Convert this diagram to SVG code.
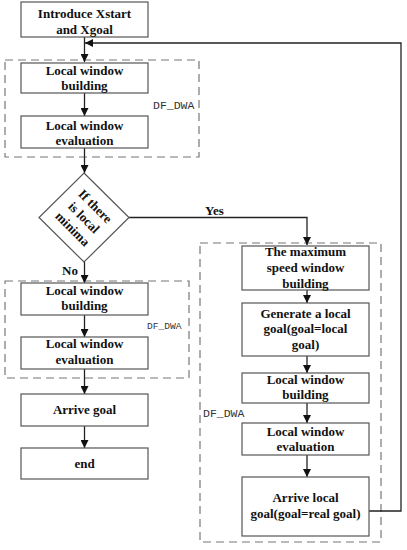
<svg xmlns="http://www.w3.org/2000/svg" width="407" height="550" viewBox="0 0 407 550">
<defs>
<style>
.box{fill:#fff;stroke:#555;stroke-width:1.2}
.dash{fill:none;stroke:#777;stroke-width:1.2;stroke-dasharray:8,5}
.t{font-family:"Liberation Serif","Times New Roman",serif;font-weight:bold;font-size:13px;fill:#111;text-anchor:middle}
.lbl{font-family:"Liberation Serif","Times New Roman",serif;font-weight:bold;font-size:13px;fill:#111}
.m{font-family:"Liberation Mono","Courier New",monospace;font-size:11.5px;fill:#333}
.c{fill:none;stroke:#222;stroke-width:1.3}
</style>
<marker id="ah" viewBox="0 0 10 10" refX="10" refY="5" markerWidth="8" markerHeight="8" markerUnits="userSpaceOnUse" orient="auto">
<path d="M0,0 L10,5 L0,10 z" fill="#111"/>
</marker>
</defs>
<rect width="407" height="550" fill="#fff"/>

<g id="groups">
<rect class="dash" x="5" y="60" width="194" height="97"/>
<rect class="dash" x="5" y="281" width="184" height="97"/>
<rect class="dash" x="200" y="243" width="181" height="299"/>
<text class="m" x="153" y="109">DF_DWA</text>
<text class="m" x="147" y="329" style="font-size:9.6px">DF_DWA</text>
<text class="m" x="203" y="417">DF_DWA</text>
</g>

<g id="connectors">
<line class="c" x1="84.5" y1="37" x2="84.5" y2="62" marker-end="url(#ah)"/>
<polyline class="c" points="369,511 401,511 401,43 85,43" marker-end="url(#ah)"/>
<line class="c" x1="84.5" y1="93" x2="84.5" y2="116" marker-end="url(#ah)"/>
<line class="c" x1="84.5" y1="148" x2="84.5" y2="173" marker-end="url(#ah)"/>
<line class="c" x1="84.5" y1="262" x2="84.5" y2="283" marker-end="url(#ah)"/>
<polyline class="c" points="129,217.5 307,217.5 307,245" marker-end="url(#ah)"/>
<line class="c" x1="84.5" y1="315" x2="84.5" y2="337" marker-end="url(#ah)"/>
<line class="c" x1="84.5" y1="369" x2="84.5" y2="394" marker-end="url(#ah)"/>
<line class="c" x1="84.5" y1="426" x2="84.5" y2="448" marker-end="url(#ah)"/>
<line class="c" x1="307" y1="290" x2="307" y2="303" marker-end="url(#ah)"/>
<line class="c" x1="307" y1="356" x2="307" y2="373" marker-end="url(#ah)"/>
<line class="c" x1="307" y1="403" x2="307" y2="423" marker-end="url(#ah)"/>
<line class="c" x1="307" y1="455" x2="307" y2="477" marker-end="url(#ah)"/>
<text class="lbl" x="205" y="215">Yes</text>
<text class="lbl" x="62" y="275">No</text>
</g>

<g id="start">
<rect class="box" x="21" y="2" width="127" height="35"/>
<text class="t" x="84.5" y="18">Introduce Xstart</text>
<text class="t" x="84.5" y="33.5">and Xgoal</text>
</g>

<g id="build1">
<rect class="box" x="21" y="63" width="127" height="30"/>
<text class="t" x="84.5" y="75">Local window</text>
<text class="t" x="84.5" y="90">building</text>
</g>

<g id="eval1">
<rect class="box" x="21" y="116" width="127" height="32"/>
<text class="t" x="84.5" y="129.5">Local window</text>
<text class="t" x="84.5" y="145">evaluation</text>
</g>

<g id="decision">
<polygon class="box" points="84,173 129,217.5 84,262 39,217.5"/>
<g transform="translate(84,217.5) rotate(45)">
<text class="t" x="0" y="-11.5">If there</text>
<text class="t" x="0" y="4.5">is local</text>
<text class="t" x="0" y="20.5">minima</text>
</g>
</g>

<g id="build2">
<rect class="box" x="21" y="283" width="127" height="32"/>
<text class="t" x="84.5" y="295">Local window</text>
<text class="t" x="84.5" y="310">building</text>
</g>

<g id="eval2">
<rect class="box" x="21" y="337" width="127" height="32"/>
<text class="t" x="84.5" y="348">Local window</text>
<text class="t" x="84.5" y="364">evaluation</text>
</g>

<g id="arrive">
<rect class="box" x="21" y="394" width="127" height="32"/>
<text class="t" x="84.5" y="414">Arrive goal</text>
</g>

<g id="end">
<rect class="box" x="21" y="448" width="127" height="31"/>
<text class="t" x="84.5" y="468">end</text>
</g>

<g id="maxspeed">
<rect class="box" x="242" y="246" width="127" height="44"/>
<text class="t" x="305.5" y="256">The maximum</text>
<text class="t" x="305.5" y="272">speed window</text>
<text class="t" x="305.5" y="288">building</text>
</g>

<g id="genlocal">
<rect class="box" x="242" y="303" width="127" height="53"/>
<text class="t" x="305.5" y="318">Generate a local</text>
<text class="t" x="305.5" y="333">goal(goal=local</text>
<text class="t" x="305.5" y="349">goal)</text>
</g>

<g id="build3">
<rect class="box" x="242" y="373" width="127" height="30"/>
<text class="t" x="305.5" y="384">Local window</text>
<text class="t" x="305.5" y="399">building</text>
</g>

<g id="eval3">
<rect class="box" x="242" y="423" width="127" height="32"/>
<text class="t" x="305.5" y="436">Local window</text>
<text class="t" x="305.5" y="451">evaluation</text>
</g>

<g id="arrivelocal">
<rect class="box" x="242" y="477" width="127" height="59"/>
<text class="t" x="305.5" y="502">Arrive local</text>
<text class="t" x="305.5" y="518">goal(goal=real goal)</text>
</g>
</svg>
